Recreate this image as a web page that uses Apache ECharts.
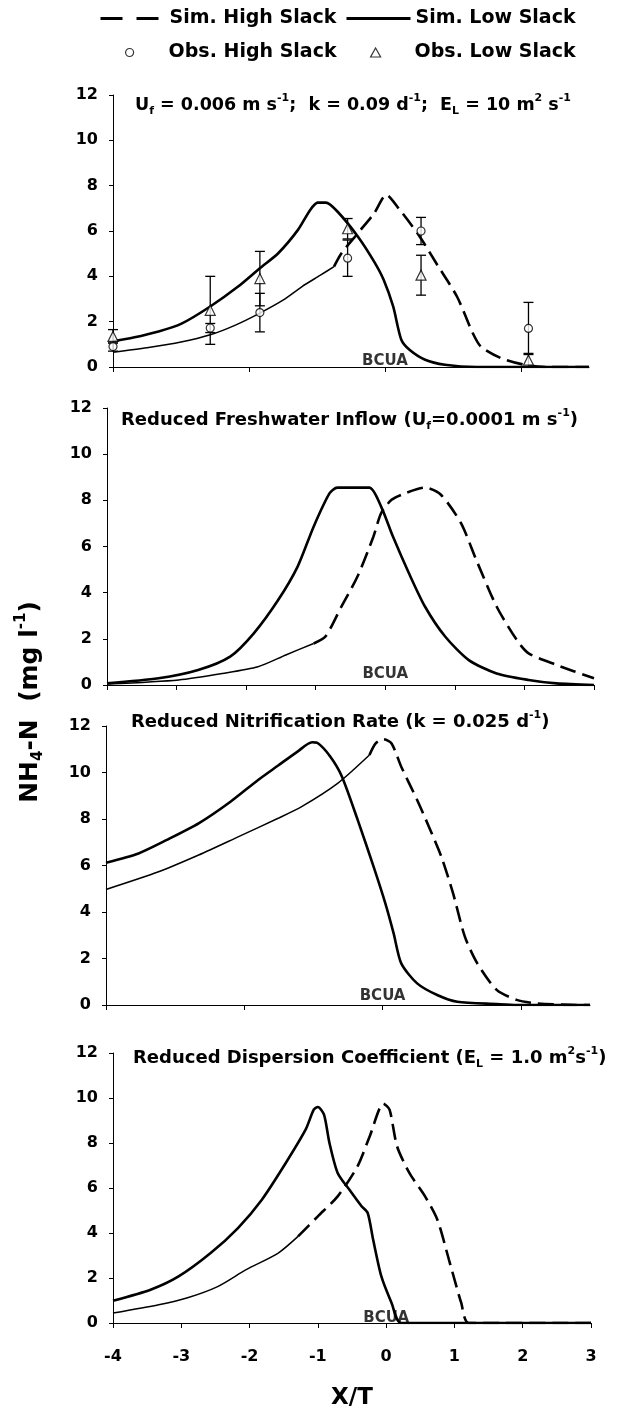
<!DOCTYPE html>
<html><head><meta charset="utf-8">
<script src="https://cdn.jsdelivr.net/npm/echarts@6/dist/echarts.min.js"></script>
<style>html,body{margin:0;padding:0;background:#fff}#c{width:623px;height:1414px}</style>
</head><body><div id="c"></div>
<script>
// ---------- DATA ----------
const xTickLabels = [-4, -3, -2, -1, 0, 1, 2, 3];
const yTicks = [0, 2, 4, 6, 8, 10, 12];

// Panel 1: base case
const lowSlack1 = [[-4,1.13],[-3.7,1.3],[-3.33,1.57],[-3.0,1.9],[-2.57,2.67],[-2.16,3.55],[-1.84,4.36],[-1.57,5.02],[-1.28,6.05],[-1.1,6.93],[-0.99,7.25],[-0.87,7.25],[-0.7,6.86],[-0.4,5.76],[-0.16,4.65],[-0.02,3.85],[0.12,2.67],[0.24,1.2],[0.36,0.76],[0.59,0.32],[0.88,0.1],[1.35,0],[3,0]];
const highSlack1 = [[-4,0.65],[-3.5,0.85],[-3,1.1],[-2.57,1.42],[-2.2,1.85],[-1.84,2.38],[-1.5,2.95],[-1.22,3.55],[-0.95,4.05],[-0.75,4.43],[-0.64,5.02],[-0.4,5.9],[-0.16,6.78],[0.02,7.6],[0.2,7.0],[0.5,5.8],[0.77,4.5],[1.06,3.1],[1.29,1.5],[1.41,0.9],[1.7,0.4],[2.05,0.1],[2.4,0],[3,0]];
const obsX1 = [-4, -2.57, -1.84, -0.55, 0.53, 2.11];
const obsHighY1 = [0.9, 1.72, 2.4, 4.8, 6.0, 1.7];
const obsHighErr1 = [0.2, 0.2, 0.85, 0.8, 0.6, 1.15];
const obsLowY1 = [1.35, 2.5, 3.9, 6.1, 4.05, 0.3];
const obsLowErr1 = [0.3, 1.5, 1.2, 0.45, 0.88, 0.3];

// Panel 2: reduced freshwater inflow
const lowSlack2 = [[-4,0.07],[-3.26,0.29],[-2.69,0.65],[-2.23,1.23],[-1.89,2.24],[-1.54,3.68],[-1.26,5.13],[-1.03,6.86],[-0.8,8.31],[-0.69,8.55],[-0.23,8.55],[-0.06,7.73],[0.11,6.43],[0.34,4.84],[0.57,3.4],[0.86,2.1],[1.2,1.08],[1.6,0.5],[2.06,0.22],[2.46,0.07],[3,0]];
const highSlack2 = [[-4,0.04],[-2.97,0.22],[-2.34,0.5],[-1.83,0.79],[-1.43,1.3],[-1.03,1.8],[-0.86,2.1],[-0.63,3.4],[-0.4,4.7],[-0.17,6.43],[-0.06,7.44],[0.09,8.02],[0.29,8.31],[0.57,8.55],[0.8,8.24],[1.09,7.0],[1.31,5.4],[1.6,3.4],[1.89,1.95],[2.06,1.37],[2.46,0.87],[3,0.29]];

// Panel 3: reduced nitrification rate
const lowSlack3 = [[-4,6.12],[-3.53,6.52],[-3.12,7.1],[-2.66,7.81],[-2.2,8.74],[-1.8,9.68],[-1.51,10.3],[-1.23,10.9],[-1.02,11.3],[-0.94,11.27],[-0.76,10.7],[-0.59,9.84],[-0.36,7.96],[-0.13,5.95],[0.04,4.37],[0.16,3.08],[0.27,1.79],[0.5,0.93],[0.79,0.43],[1.08,0.14],[1.65,0.04],[1.94,0],[3,0]];
const highSlack3 = [[-4,4.97],[-3.24,5.73],[-2.66,6.45],[-2.09,7.23],[-1.51,8.03],[-1.17,8.53],[-0.65,9.53],[-0.19,10.75],[-0.1,11.25],[0.01,11.43],[0.13,11.25],[0.27,10.25],[0.5,8.82],[0.67,7.67],[0.85,6.38],[1.02,4.8],[1.19,2.94],[1.37,1.79],[1.65,0.65],[1.94,0.22],[2.23,0.07],[2.8,0],[3,0]];

// Panel 4: reduced dispersion coefficient
const lowSlack4 = [[-4,0.99],[-3.45,1.48],[-3.04,2.07],[-2.57,3.11],[-2.17,4.22],[-1.82,5.48],[-1.47,7.11],[-1.18,8.59],[-1.06,9.48],[-1.0,9.6],[-0.91,9.26],[-0.83,8.0],[-0.71,6.67],[-0.54,5.93],[-0.36,5.19],[-0.27,4.89],[-0.19,3.7],[-0.07,2.07],[0.08,0.89],[0.22,0],[3,0]];
const highSlack4 = [[-4,0.44],[-3.33,0.81],[-2.92,1.11],[-2.46,1.63],[-2.05,2.37],[-1.58,3.11],[-1.29,3.85],[-1.0,4.74],[-0.71,5.63],[-0.42,6.96],[-0.24,8.3],[-0.04,9.75],[0.05,9.48],[0.16,7.85],[0.34,6.67],[0.57,5.63],[0.75,4.59],[0.92,2.81],[1.1,0.89],[1.21,0],[3,0]];

// x where the high-slack curve switches from thin solid to dashed
const dashStart = [-0.75, -1.03, -0.19, -1.29];

// ---------- CHART ----------
const F = 'DejaVu Sans';
const chart = echarts.init(document.getElementById('c'), null, {renderer: 'canvas'});

const grids = [
  {left: 113, top: 95, width: 476, height: 272},
  {left: 107, top: 408, width: 487, height: 277},
  {left: 106, top: 726, width: 484, height: 279},
  {left: 113, top: 1053, width: 478, height: 270}
];
const xTickSets = [[-4,-2,0,2], xTickLabels, [-4,-2,0,2], xTickLabels];

const xAxes = grids.map((g, i) => ({
  type: 'value', gridIndex: i, min: -4, max: 3, interval: 1,
  axisLine: {onZero: false, lineStyle: {color: '#000', width: 1}},
  axisTick: {show: true, length: 5, customValues: xTickSets[i], lineStyle: {color: '#000', width: 1}},
  axisLabel: {show: i === 3, margin: 26, color: '#000', fontFamily: F, fontWeight: 'bold', fontSize: 16,
    customValues: i === 3 ? xTickLabels : undefined},
  splitLine: {show: false},
  name: i === 3 ? 'X/T' : '', nameLocation: 'middle', nameGap: 64,
  nameTextStyle: {color: '#000', fontFamily: F, fontWeight: 'bold', fontSize: 23}
}));
const yAxes = grids.map((g, i) => ({
  type: 'value', gridIndex: i, min: 0, max: 12, interval: 2,
  axisLine: {show: true, onZero: false, lineStyle: {color: '#000', width: 1}},
  axisTick: {show: true, length: 4, lineStyle: {color: '#000', width: 1}},
  axisLabel: {margin: 15, color: '#000', fontFamily: F, fontWeight: 'bold', fontSize: 16},
  splitLine: {show: false}
}));

const lows = [lowSlack1, lowSlack2, lowSlack3, lowSlack4];
const highs = [highSlack1, highSlack2, highSlack3, highSlack4];
const bcuaOffset = [[0, 2], [0, -3], [0, -1], [0, 3]];

const series = [];
highs.forEach((h, i) => {
  series.push({
    name: 'Sim. High Slack', type: 'line', xAxisIndex: i, yAxisIndex: i,
    data: h.filter(p => p[0] >= dashStart[i]), symbol: 'none', smooth: 0.25,
    itemStyle: {color: '#000'},
    lineStyle: {color: '#000', width: 2.6, type: [16, 7]}, z: 3, silent: true
  });
  series.push({
    name: 'Sim. High Slack', type: 'line', xAxisIndex: i, yAxisIndex: i,
    data: h.filter(p => p[0] <= dashStart[i]), symbol: 'none', smooth: 0.25,
    itemStyle: {color: '#000'},
    lineStyle: {color: '#000', width: 1.5}, z: 3, silent: true
  });
  series.push({
    name: 'Sim. Low Slack', type: 'line', xAxisIndex: i, yAxisIndex: i,
    data: lows[i], symbol: 'none', smooth: 0.25,
    itemStyle: {color: '#000'},
    lineStyle: {color: '#000', width: 2.6}, z: 3, silent: true
  });
  series.push({
    name: 'bcua', type: 'scatter', xAxisIndex: i, yAxisIndex: i,
    data: [[0, 0]], symbolSize: 0, silent: true, z: 2,
    label: {show: true, formatter: 'BCUA', position: 'top', distance: 0, offset: bcuaOffset[i],
      color: '#000', fontFamily: F, fontWeight: 'bold', fontSize: 15}
  });
});

// error bars (panel 1)
function errSeries(name, ys, errs) {
  return {
    name: name, type: 'custom', xAxisIndex: 0, yAxisIndex: 0, silent: true, z: 4,
    data: obsX1.map((x, k) => [x, ys[k] - errs[k], ys[k] + errs[k]]),
    encode: {x: 0, y: [1, 2]},
    renderItem: function (params, api) {
      const x = api.value(0);
      const lo = api.coord([x, api.value(1)]);
      const hi = api.coord([x, api.value(2)]);
      const w = 5;
      const st = {stroke: '#000', lineWidth: 1.3};
      return {type: 'group', children: [
        {type: 'line', shape: {x1: lo[0], y1: lo[1], x2: hi[0], y2: hi[1]}, style: st},
        {type: 'line', shape: {x1: lo[0] - w, y1: lo[1], x2: lo[0] + w, y2: lo[1]}, style: st},
        {type: 'line', shape: {x1: hi[0] - w, y1: hi[1], x2: hi[0] + w, y2: hi[1]}, style: st}
      ]};
    }
  };
}
series.push(errSeries('errHigh', obsHighY1, obsHighErr1));
series.push(errSeries('errLow', obsLowY1, obsLowErr1));
series.push({
  name: 'Obs. High Slack', type: 'scatter', xAxisIndex: 0, yAxisIndex: 0, z: 5,
  data: obsX1.map((x, k) => [x, obsHighY1[k]]), symbol: 'circle', symbolSize: 8,
  itemStyle: {color: '#fff', borderColor: '#000', borderWidth: 1.2}
});
series.push({
  name: 'Obs. Low Slack', type: 'scatter', xAxisIndex: 0, yAxisIndex: 0, z: 5,
  data: obsX1.map((x, k) => [x, obsLowY1[k]]), symbol: 'triangle', symbolSize: 10,
  itemStyle: {color: '#fff', borderColor: '#000', borderWidth: 1.2}
});

const legText = {color: '#000', fontFamily: F, fontWeight: 'bold', fontSize: 19};
const markerStyle = {color: '#fff', borderColor: '#000', borderWidth: 1.2};
const legends = [
  {left: 99, top: 9, itemWidth: 64, itemHeight: 14, data: ['Sim. High Slack'],
   itemStyle: {opacity: 0}, lineStyle: {type: [22, 14], width: 3, color: '#000'}},
  {left: 345, top: 9, itemWidth: 64, itemHeight: 14, data: ['Sim. Low Slack'],
   itemStyle: {opacity: 0}, lineStyle: {type: 'solid', width: 3, color: '#000'}},
  {left: 125, top: 43, itemWidth: 68, itemHeight: 8, symbolKeepAspect: true,
   data: [{name: 'Obs. High Slack', icon: 'circle'}], itemStyle: markerStyle},
  {left: 370, top: 43, itemWidth: 68, itemHeight: 9, symbolKeepAspect: true,
   data: [{name: 'Obs. Low Slack', icon: 'path://M5,0L10,9L0,9Z'}], itemStyle: markerStyle}
].map(l => Object.assign({padding: 0, selectedMode: false, textStyle: legText}, l));

const rich = {
  n: {fontFamily: F, fontWeight: 'bold', fontSize: 18, color: '#000', lineHeight: 24},
  sub: {fontFamily: F, fontWeight: 'bold', fontSize: 11, color: '#000', verticalAlign: 'bottom'},
  sup: {fontFamily: F, fontWeight: 'bold', fontSize: 11, color: '#000', verticalAlign: 'top'}
};
const rich1 = Object.assign({}, rich, {n: Object.assign({}, rich.n, {fontSize: 17.5})});
const titleTexts = [
  '{n|U}{sub|f}{n| = 0.006 m s}{sup|-1}{n|;  k = 0.09 d}{sup|-1}{n|;  E}{sub|L}{n| = 10 m}{sup|2}{n| s}{sup|-1}',
  '{n|Reduced Freshwater Inflow (U}{sub|f}{n|=0.0001 m s}{sup|-1}{n|)}',
  '{n|Reduced Nitrification Rate (k = 0.025 d}{sup|-1}{n|)}',
  '{n|Reduced Dispersion Coefficient (E}{sub|L}{n| = 1.0 m}{sup|2}{n|s}{sup|-1}{n|)}'
];
const titlePos = [[135, 93], [121, 408], [131, 710], [133, 1046]];
const titles = titleTexts.map((t, i) => ({
  text: t, left: titlePos[i][0], top: titlePos[i][1], padding: 0,
  textStyle: {rich: i === 0 ? rich1 : rich}
}));

const option = {
  animation: false,
  backgroundColor: '#fff',
  title: titles,
  legend: legends,
  grid: grids,
  xAxis: xAxes,
  yAxis: yAxes,
  series: series,
  graphic: [{
    type: 'text', x: 30, y: 702, rotation: Math.PI / 2,
    style: {
      text: '{b|NH}{s|4}{b|-N  (mg l}{p|-1}{b|)}',
      align: 'center', verticalAlign: 'middle',
      rich: {
        b: {fontFamily: F, fontWeight: 'bold', fontSize: 25, fill: '#000', lineHeight: 32},
        s: {fontFamily: F, fontWeight: 'bold', fontSize: 15, fill: '#000', verticalAlign: 'bottom'},
        p: {fontFamily: F, fontWeight: 'bold', fontSize: 15, fill: '#000', verticalAlign: 'top'}
      }
    }
  }]
};
chart.setOption(option);
</script></body></html>
